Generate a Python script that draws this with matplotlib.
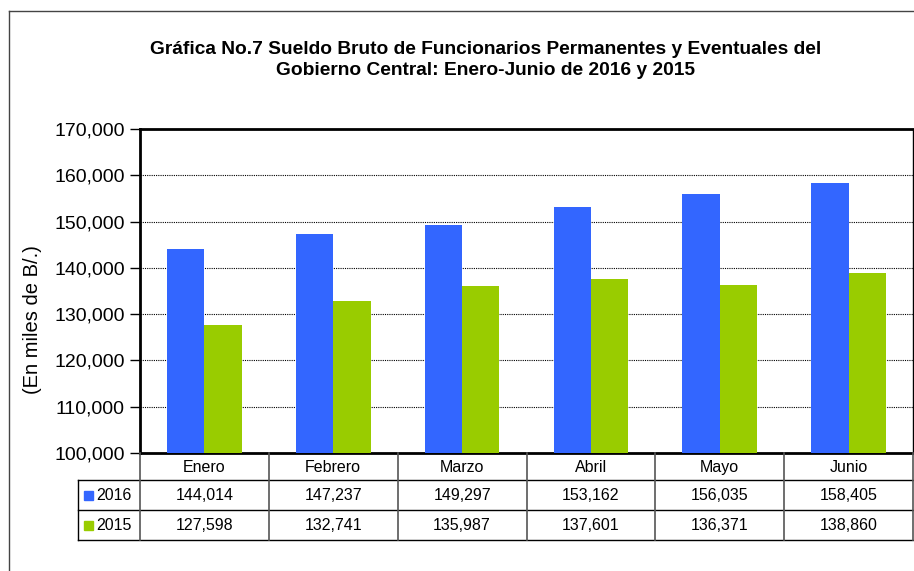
import numpy as np
import matplotlib
matplotlib.use("Agg")
import matplotlib.pyplot as plt
from matplotlib.lines import Line2D
from matplotlib.patches import Rectangle

# ─────────────────────────────────────────────
#  Datos
# ─────────────────────────────────────────────
meses = ["Enero", "Febrero", "Marzo", "Abril", "Mayo", "Junio"]
sueldo_2016 = [144014, 147237, 149297, 153162, 156035, 158405]
sueldo_2015 = [127598, 132741, 135987, 137601, 136371, 138860]
series = ["2016", "2015"]
colores = ["#3366FF", "#99CC00"]

titulo = ("Gráfica No.7 Sueldo Bruto de Funcionarios Permanentes y Eventuales del\n"
          "Gobierno Central: Enero-Junio de 2016 y 2015")

plt.rcParams["font.family"] = ["Liberation Sans", "DejaVu Sans"]

W, H = 914, 571
fig = plt.figure(figsize=(W / 100, H / 100), dpi=100)


def fx(px):
    return px / W


def fy(py):
    return 1 - py / H


# área de la gráfica (en píxeles)
x0, x1 = 140, 913
y_top, y_bot = 129, 453
ax = fig.add_axes([fx(x0), fy(y_bot), fx(x1) - fx(x0), fy(y_top) - fy(y_bot)])

x = np.arange(len(meses))
bw = 0.29
ax.bar(x - bw / 2, sueldo_2016, bw, color=colores[0], zorder=3)
ax.bar(x + bw / 2, sueldo_2015, bw, color=colores[1], zorder=3)

ax.set_xlim(-0.5, len(meses) - 0.5)
ax.set_ylim(100000, 170000)
ticks = np.arange(100000, 170001, 10000)
ax.set_yticks(ticks)
ax.set_yticklabels([f"{v:,.0f}" for v in ticks], fontsize=14)
ax.set_xticks([])
ax.tick_params(axis="y", direction="out", length=7, width=1, pad=4, colors="black")
ax.yaxis.grid(True, linestyle=(0, (1, 1)), color="black", linewidth=0.8, zorder=0)

for s in ["left", "bottom", "top"]:
    ax.spines[s].set_linewidth(2)
ax.spines["right"].set_linewidth(1)

# etiqueta del eje y
fig.text(fx(33), fy(320), "(En miles de B/.)", rotation=90, ha="center", va="center",
         fontsize=14.5)

# título
fig.text(fx(486), fy(60), titulo, ha="center", va="center", fontsize=13.8,
         fontweight="bold", linespacing=1.25)

# marco exterior
fig.add_artist(Line2D([fx(9), 1], [fy(11), fy(11)], color="#444444", lw=1))
fig.add_artist(Line2D([fx(9), fx(9)], [fy(11), 0], color="#444444", lw=1))

# ─────────────────────────────────────────────
#  Tabla de datos
# ─────────────────────────────────────────────
tab_left = 78
row_y = [453, 480, 510, 540]
col_w = (x1 - x0) / len(meses)

for y in row_y[1:]:
    fig.add_artist(Line2D([fx(tab_left), fx(x1)], [fy(y), fy(y)], color="black", lw=1))
fig.add_artist(Line2D([fx(tab_left), fx(tab_left)], [fy(row_y[1]), fy(row_y[3])],
                      color="black", lw=1))
for i in range(len(meses) + 1):
    xc = x0 + i * col_w
    fig.add_artist(Line2D([fx(xc), fx(xc)], [fy(row_y[0]), fy(row_y[3])],
                          color="#555555", lw=1.2))

for i, m in enumerate(meses):
    xc = x0 + (i + 0.5) * col_w
    fig.text(fx(xc), fy((row_y[0] + row_y[1]) / 2 + 1), m, ha="center", va="center",
             fontsize=11.5)

for r, (nombre, valores, c) in enumerate(zip(series, [sueldo_2016, sueldo_2015], colores)):
    yc = (row_y[r + 1] + row_y[r + 2]) / 2
    fig.add_artist(Rectangle((fx(84), fy(yc + 4.5)), fx(9), fy(0) - fy(9), color=c))
    fig.text(fx(96), fy(yc), nombre, ha="left", va="center", fontsize=11.5)
    for i, v in enumerate(valores):
        xc = x0 + (i + 0.5) * col_w
        fig.text(fx(xc), fy(yc), f"{v:,}", ha="center", va="center", fontsize=11.5)

fig.savefig("out.png", dpi=100)
